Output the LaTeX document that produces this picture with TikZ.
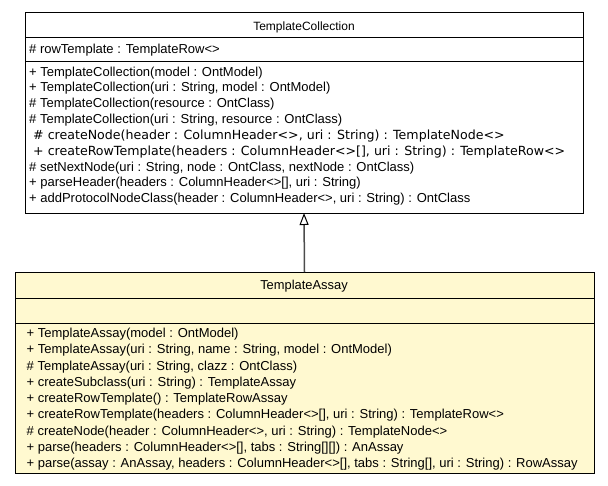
\documentclass[tikz,border=0pt]{standalone}
\usepackage{fontspec}
\setmainfont{Liberation Sans}
\newfontfamily\widefont{DejaVu Sans}
\usetikzlibrary{arrows.meta,shadows}
\definecolor{assayfill}{RGB}{255,249,208}
\tikzstyle{class} = [rectangle, draw=black, line width=1pt, fill=white, anchor=north west, inner sep=0pt, outer sep=0pt, drop shadow={shadow xshift=1.2pt, shadow yshift=-1.2pt, fill=black!45, opacity=1}]
\tikzstyle{classname} = [anchor=base, inner sep=0pt]
\tikzstyle{member} = [anchor=base west, inner sep=0pt, font=\fontsize{13}{15}\selectfont]
\tikzstyle{extends} = [draw=black!70, line width=1.5pt, -{Triangle[open, length=12pt, width=9pt, line width=1pt, color=black]}]
\newcommand{\wide}{\hspace{4pt}\widefont\fontsize{12.6}{15}\selectfont}

\begin{document}
\begin{tikzpicture}[x=1pt, y=-1pt]
\useasboundingbox (0,0) rectangle (608,485);

% class TemplateCollection
\node (tc) [class, minimum width=558pt, minimum height=201pt] at (25,12) {};
\draw ([yshift=-25pt]tc.north west) -- ([yshift=-25pt]tc.north east);
\draw ([yshift=-49pt]tc.north west) -- ([yshift=-49pt]tc.north east);
\node (tcname) [classname, font=\fontsize{12}{14}\selectfont] at (304,30) {TemplateCollection};
\node (tcattr) [member] at (29,53) {\# rowTemplate : TemplateRow<>};
\foreach \m [count=\i from 0] in {
  {+ TemplateCollection(model : OntModel)},
  {+ TemplateCollection(uri : String, model : OntModel)},
  {\# TemplateCollection(resource : OntClass)},
  {\# TemplateCollection(uri : String, resource : OntClass)},
  {\wide \# createNode(header : ColumnHeader<>, uri : String) : TemplateNode<>},
  {\wide + createRowTemplate(headers : ColumnHeader<>[], uri : String) : TemplateRow<>},
  {\# setNextNode(uri : String, node : OntClass, nextNode : OntClass)},
  {+ parseHeader(headers : ColumnHeader<>[], uri : String)},
  {+ addProtocolNodeClass(header : ColumnHeader<>, uri : String) : OntClass}}
  \node (tcop\i) [member] at (29,76+15.85*\i) {\m};

% class TemplateAssay
\node (ta) [class, fill=assayfill, minimum width=579pt, minimum height=201pt] at (15,272) {};
\draw ([yshift=-26pt]ta.north west) -- ([yshift=-26pt]ta.north east);
\draw ([yshift=-51pt]ta.north west) -- ([yshift=-51pt]ta.north east);
\node (taname) [classname, font=\fontsize{12.9}{15}\selectfont] at (304,289.3) {TemplateAssay};
\foreach \m [count=\i from 0] in {
  {+ TemplateAssay(model : OntModel)},
  {+ TemplateAssay(uri : String, name : String, model : OntModel)},
  {\# TemplateAssay(uri : String, clazz : OntClass)},
  {+ createSubclass(uri : String) : TemplateAssay},
  {+ createRowTemplate() : TemplateRowAssay},
  {+ createRowTemplate(headers : ColumnHeader<>[], uri : String) : TemplateRow<>},
  {\# createNode(header : ColumnHeader<>, uri : String) : TemplateNode<>},
  {+ parse(headers : ColumnHeader<>[], tabs : String[][]) : AnAssay},
  {+ parse(assay : AnAssay, headers : ColumnHeader<>[], tabs : String[], uri : String) : RowAssay}}
  \node (taop\i) [member] at (26.5,337.7+16.25*\i) {\m};

% generalisation
\draw [extends] (ta.north) -- (tc.south);
\end{tikzpicture}
\end{document}
